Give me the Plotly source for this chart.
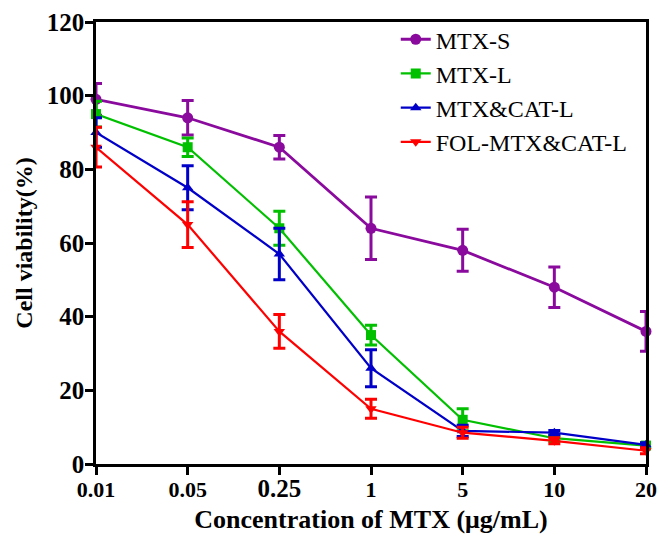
import plotly.graph_objects as go

categories = ["0.01", "0.05", "0.25", "1", "5", "10", "20"]
tick_labels = ["0.01", "0.05", "<span style='font-size:25px'>0.25</span>", "1", "5", "10", "20"]
y_ticks = [0, 20, 40, 60, 80, 100, 120]

series_names = ["MTX-S", "MTX-L", "MTX&CAT-L", "FOL-MTX&CAT-L"]
mtx_s = [99, 94, 86, 64, 58, 48, 36]
mtx_s_err = [4.3, 4.7, 3.2, 8.5, 5.7, 5.5, 5.4]
mtx_l = [95, 86, 64, 35, 12, 7, 5]
mtx_l_err = [3.5, 2.5, 4.6, 2.7, 3.0, 0.8, 0.8]
mtx_cat_l = [90, 75, 57, 26, 9, 8.5, 5.2]
mtx_cat_l_err = [4.0, 6.0, 7.0, 5.0, 1.5, 0.6, 0.6]
fol_mtx_cat_l = [86, 65, 36, 15, 8.5, 6.3, 3.6]
fol_mtx_cat_l_err = [5.4, 6.2, 4.6, 2.6, 1.5, 0.8, 0.8]

colors = ["#8a0a9e", "#00c000", "#0000c8", "#ff0000"]
symbols = ["circle", "square", "triangle-up", "triangle-down"]
sizes = [11, 10, 10, 10]
values = [mtx_s, mtx_l, mtx_cat_l, fol_mtx_cat_l]
errors = [mtx_s_err, mtx_l_err, mtx_cat_l_err, fol_mtx_cat_l_err]
line_widths = [2.8, 2.2, 2.2, 2.2]

FONT = "Liberation Serif, Times New Roman, serif"

fig = go.Figure()
for name, v, e, c, s, sz, lw in zip(series_names, values, errors, colors, symbols, sizes, line_widths):
    fig.add_trace(go.Scatter(
        x=categories, y=v, name=name, mode="lines+markers",
        line=dict(color=c, width=lw),
        marker=dict(symbol=s, size=sz, color=c),
        error_y=dict(type="data", array=e, visible=True, color=c, thickness=3, width=6),
        cliponaxis=False,
    ))

fig.update_layout(
    width=659, height=534,
    margin=dict(l=96, r=13, t=22, b=70, autoexpand=False),
    paper_bgcolor="white", plot_bgcolor="white",
    font=dict(family=FONT, color="black"),
    showlegend=True,
    legend=dict(
        x=0.545, y=1.011, xanchor="left", yanchor="top",
        bgcolor="rgba(0,0,0,0)", font=dict(family=FONT, size=24, color="black"),
        tracegroupgap=0, itemwidth=30,
    ),
    xaxis=dict(
        type="category", range=[0, 6], automargin=False,
        tickmode="array", tickvals=categories, ticktext=tick_labels,
        showline=True, linecolor="black", linewidth=2.5, mirror=True,
        ticks="outside", ticklen=8, tickwidth=2.5, tickcolor="black",
        ticklabelstandoff=-4,
        showgrid=False, zeroline=False,
        tickfont=dict(family=FONT, size=22, color="black", weight="bold"),
        title=dict(text="Concentration of MTX (μg/mL)", standoff=9,
                   font=dict(family=FONT, size=26, color="black", weight="bold")),
    ),
    yaxis=dict(
        range=[0, 120], tickmode="array", tickvals=y_ticks,
        automargin=False,
        showline=True, linecolor="black", linewidth=2.5, mirror=True,
        ticks="outside", ticklen=8, tickwidth=2.5, tickcolor="black",
        ticklabelstandoff=-4,
        showgrid=False, zeroline=False,
        tickfont=dict(family=FONT, size=25, color="black", weight="bold"),
        title=dict(text="Cell viability(%)", standoff=8,
                   font=dict(family=FONT, size=24, color="black", weight="bold")),
    ),
)

fig.write_html("out.html", config={"displayModeBar": False},
               post_script="document.body.style.margin='0px';")
